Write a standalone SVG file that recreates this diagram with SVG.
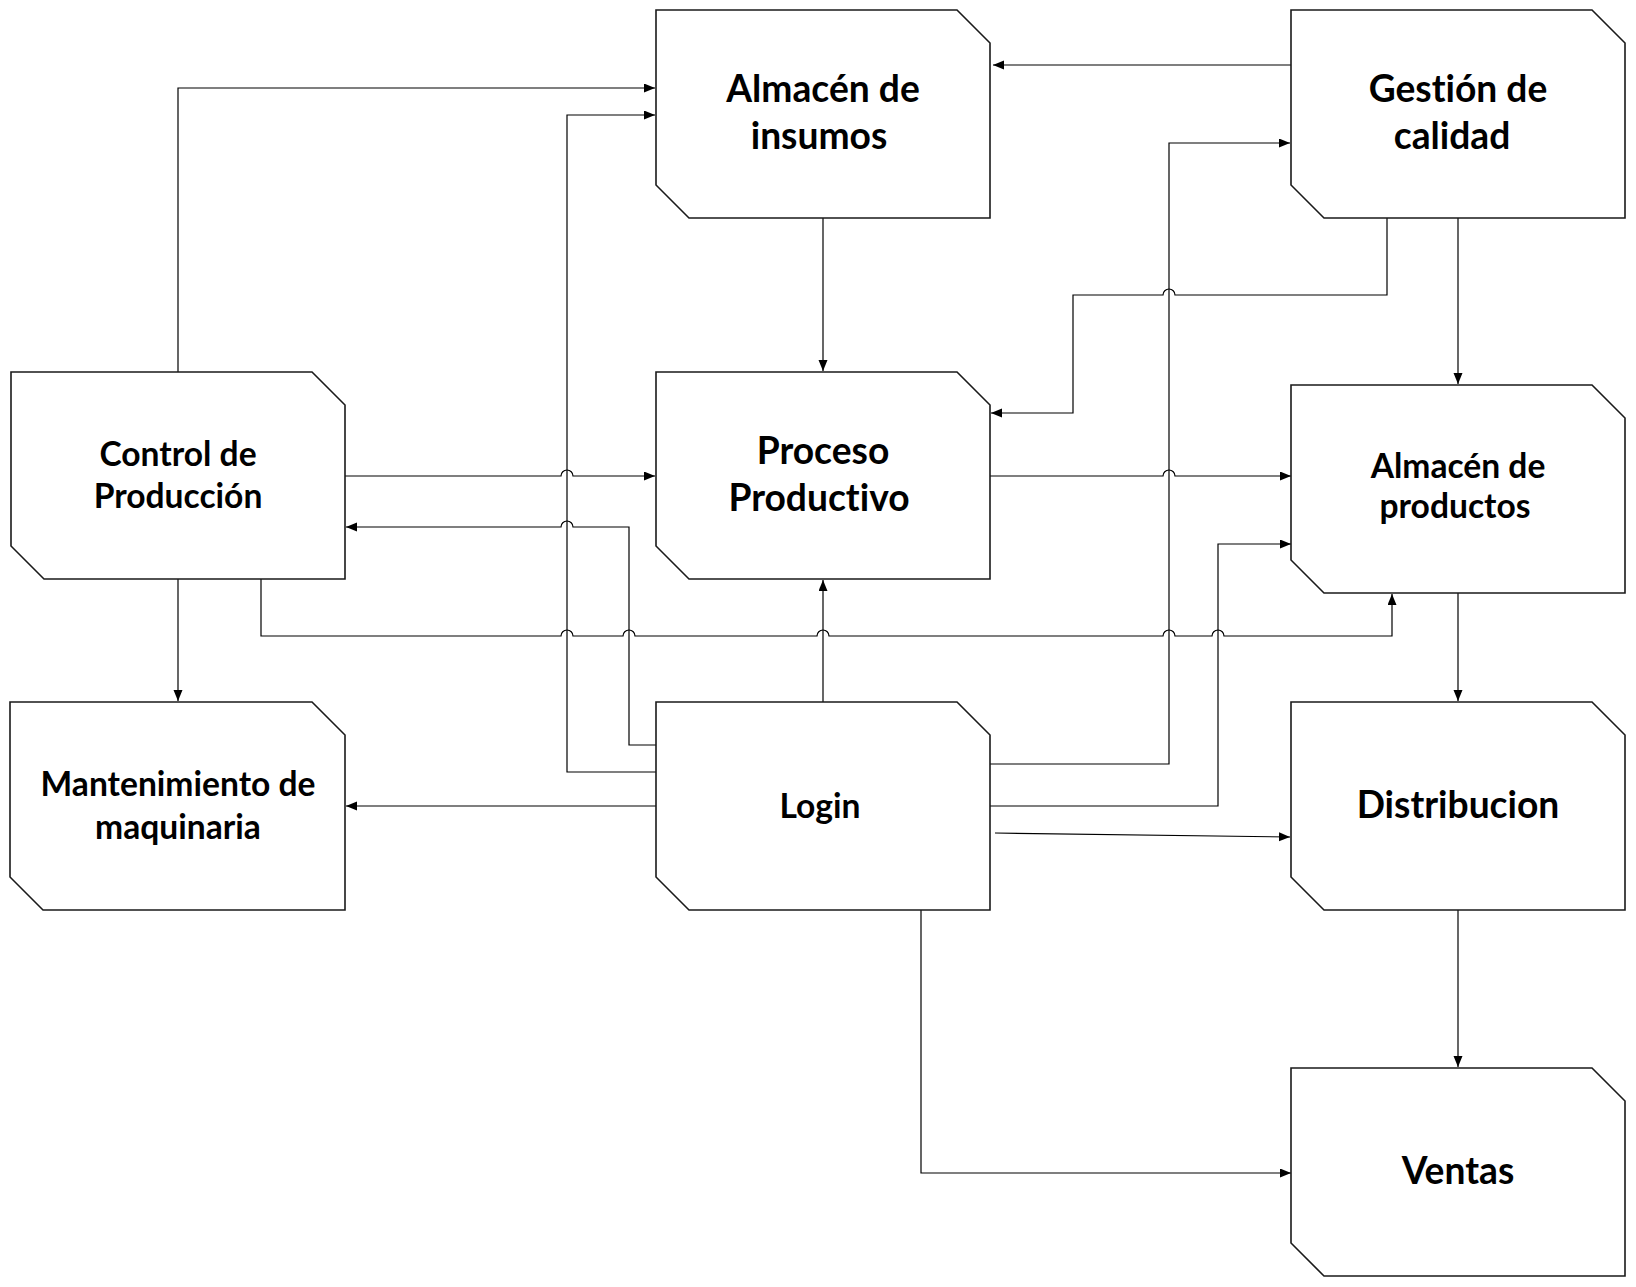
<svg xmlns="http://www.w3.org/2000/svg" width="1636" height="1287" viewBox="0 0 1636 1287">
<defs>
<marker id="ah" markerUnits="userSpaceOnUse" markerWidth="12" markerHeight="10" refX="11" refY="4.5" orient="auto">
<path d="M0,0 L11,4.5 L0,9 z" fill="#000"/>
</marker>
<style>
.box{fill:#fff;stroke:#1a1a1a;stroke-width:1.6}
.lbl{font-family:Lato,"Liberation Sans",sans-serif;font-weight:bold;fill:#000;text-anchor:middle;font-variant-ligatures:none}
.big{font-size:37.2px}
.sm{font-size:33.6px}
.c{fill:none;stroke:#000;stroke-width:1.2}
.a{marker-end:url(#ah)}
</style>
</defs>
<rect width="1636" height="1287" fill="#fff"/>
<g id="connectors">
<!-- Control -> Almacen insumos -->
<path class="c a" d="M178,372 V88 H655"/>
<!-- Login -> Almacen insumos -->
<path class="c a" d="M656,772 H567 V115 H655"/>
<!-- Login -> Control -->
<path class="c a" d="M656,745 H629 V527 H573 A6,6 0 0 0 561,527 H346"/>
<!-- Control -> Proceso -->
<path class="c a" d="M345,476 H561 A6,6 0 0 1 573,476 H655"/>
<!-- Almacen insumos -> Proceso -->
<path class="c a" d="M823,218 V371"/>
<!-- Login -> Proceso -->
<path class="c a" d="M823,702 V580"/>
<!-- Control -> Almacen productos -->
<path class="c a" d="M261,579 V636 H561 A6,6 0 0 1 573,636 H623 A6,6 0 0 1 635,636 H817 A6,6 0 0 1 829,636 H1163 A6,6 0 0 1 1175,636 H1212 A6,6 0 0 1 1224,636 H1392 V594"/>
<!-- Control -> Mantenimiento -->
<path class="c a" d="M178,579 V701"/>
<!-- Login -> Mantenimiento -->
<path class="c a" d="M656,806 H346"/>
<!-- Gestion -> Almacen insumos -->
<path class="c a" d="M1291,65 H993"/>
<!-- Login -> Gestion -->
<path class="c a" d="M990,764 H1169 V143 H1290"/>
<!-- Login -> Almacen productos -->
<path class="c a" d="M990,806 H1218 V544 H1291"/>
<!-- Login -> Distribucion -->
<path class="c a" d="M995,833 L1290,837"/>
<!-- Gestion -> Proceso -->
<path class="c a" d="M1387,218 V295 H1175 A6,6 0 0 0 1163,295 H1073 V413 H991"/>
<!-- Gestion -> Almacen productos -->
<path class="c a" d="M1458,218 V384"/>
<!-- Proceso -> Almacen productos -->
<path class="c a" d="M990,476 H1163 A6,6 0 0 1 1175,476 H1291"/>
<!-- Almacen productos -> Distribucion -->
<path class="c a" d="M1458,593 V701"/>
<!-- Distribucion -> Ventas -->
<path class="c a" d="M1458,910 V1067"/>
<!-- Login -> Ventas -->
<path class="c a" d="M921,910 V1173 H1291"/>
</g>
<g id="almacen-insumos">
<polygon class="box" points="656,10 957,10 990,43 990,218 689,218 656,185"/>
<text class="lbl big" x="823" y="102">Almacén de</text>
<text class="lbl big" x="819" y="149">insumos</text>
</g>
<g id="gestion-calidad">
<polygon class="box" points="1291,10 1592,10 1625,43 1625,218 1324,218 1291,185"/>
<text class="lbl big" x="1458" y="102">Gestión de</text>
<text class="lbl big" x="1452" y="149">calidad</text>
</g>
<g id="control-produccion">
<polygon class="box" points="11,372 312,372 345,405 345,579 44,579 11,546"/>
<text class="lbl sm" x="178" y="466">Control de</text>
<text class="lbl sm" x="178" y="508">Producción</text>
</g>
<g id="proceso-productivo">
<polygon class="box" points="656,372 957,372 990,405 990,579 689,579 656,546"/>
<text class="lbl big" x="823" y="464">Proceso</text>
<text class="lbl big" x="819" y="511">Productivo</text>
</g>
<g id="almacen-productos">
<polygon class="box" points="1291,385 1592,385 1625,418 1625,593 1324,593 1291,560"/>
<text class="lbl sm" x="1458" y="478">Almacén de</text>
<text class="lbl sm" x="1455" y="518">productos</text>
</g>
<g id="mantenimiento">
<polygon class="box" points="10,702 312,702 345,735 345,910 43,910 10,877"/>
<text class="lbl sm" x="178" y="796">Mantenimiento de</text>
<text class="lbl sm" x="178" y="839">maquinaria</text>
</g>
<g id="login">
<polygon class="box" points="656,702 957,702 990,735 990,910 689,910 656,877"/>
<text class="lbl sm" x="820" y="818">Login</text>
</g>
<g id="distribucion">
<polygon class="box" points="1291,702 1592,702 1625,735 1625,910 1324,910 1291,877"/>
<text class="lbl big" x="1458" y="818">Distribucion</text>
</g>
<g id="ventas">
<polygon class="box" points="1291,1068 1592,1068 1625,1101 1625,1276 1324,1276 1291,1243"/>
<text class="lbl big" x="1458" y="1184">Ventas</text>
</g>
</svg>
